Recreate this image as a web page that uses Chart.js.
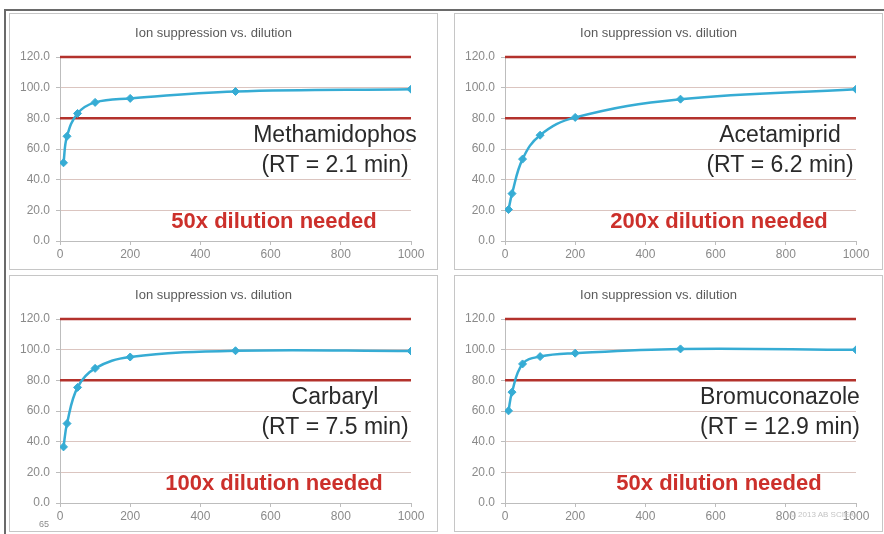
<!DOCTYPE html>
<html>
<head>
<meta charset="utf-8">
<script src="https://cdn.jsdelivr.net/npm/chart.js@4"></script>
<style>
    html, body { margin: 0; padding: 0; background: #ffffff; }
    body { width: 884px; height: 534px; position: relative; overflow: hidden; font-family: 'Liberation Sans', Arial, sans-serif; }
    .frame-top { position: absolute; left: 4px; top: 9px; width: 880px; height: 2px; background: #6a6a6a; }
    .frame-left { position: absolute; left: 4px; top: 9px; width: 2px; height: 525px; background: #6a6a6a; }
    .panel { position: absolute; border: 1px solid #c6c6c6; background: #ffffff; }
    .panel canvas { display: block; }
    .page-no { position: absolute; left: 39px; top: 519px; font-size: 9px; color: #8a8a8a; }
    .copyright { position: absolute; left: 790px; top: 510px; font-size: 8px; color: #c4c4c4; }
</style>
</head>
<body>
<div class="frame-top"></div>
<div class="frame-left"></div>
<div class="panel" style="left:9px;top:13px;"><canvas id="chart0" width="427" height="255"></canvas></div>
<div class="panel" style="left:454px;top:13px;"><canvas id="chart1" width="427" height="255"></canvas></div>
<div class="panel" style="left:9px;top:275px;"><canvas id="chart2" width="427" height="255"></canvas></div>
<div class="panel" style="left:454px;top:275px;"><canvas id="chart3" width="427" height="255"></canvas></div>
<div class="page-no">65</div>
<div class="copyright">© 2013 AB SCIEX</div>

<script>
// dilution factors (x axis) and % response per compound
const dilutions     = [ 10, 20, 50, 100, 200, 500, 1000 ];
const methamidophos = [ 51.0, 68.3, 83.2, 90.4, 93.0, 97.5, 99.0 ];
const acetamiprid   = [ 20.5, 30.9, 53.4, 69.0, 80.6, 92.5, 99.0 ];
const carbaryl      = [ 36.6, 51.8, 75.4, 87.8, 95.2, 99.3, 99.1 ];
const bromuconazole = [ 60.1, 72.3, 90.7, 95.5, 97.7, 100.5, 99.9 ];

const compounds      = [ 'Methamidophos', 'Acetamiprid', 'Carbaryl', 'Bromuconazole' ];
const retentionTimes = [ '2.1', '6.2', '7.5', '12.9' ];
const dilutionNeeded = [ '50x', '200x', '100x', '50x' ];
const seriesList     = [ methamidophos, acetamiprid, carbaryl, bromuconazole ];

// acceptance band
const limitLow  = 80;
const limitHigh = 120;
const xRange    = [ 0, 1000 ];

const chartTitle = 'Ion suppression vs. dilution';
const fontFamily = "'Liberation Sans', Arial, sans-serif";

function toPoints( xs, ys ) {
    return xs.map( function ( x, i ) {
        return { x: x, y: ys[ i ] };
    } );
}

function limitLine( value ) {
    return {
        data: toPoints( xRange, [ value, value ] ),
        borderColor: '#b3322c',
        borderWidth: 2.5,
        pointRadius: 0,
        tension: 0,
        clip: 4
    };
}

// compound name + RT and the red verdict, drawn over the plot
const annotationPlugin = {
    id: 'compoundLabels',
    afterDraw: function ( chart, args, opts ) {
        const ctx = chart.ctx;
        ctx.save();
        ctx.textAlign    = 'center';
        ctx.textBaseline = 'middle';

        ctx.fillStyle = '#2a2a2a';
        ctx.font      = '23px ' + fontFamily;
        ctx.fillText( opts.name, 325, 122 );
        ctx.fillText( '(RT = ' + opts.rt + ' min)', 325, 152 );

        ctx.fillStyle = '#cc302b';
        ctx.font      = 'bold 22px ' + fontFamily;
        ctx.fillText( opts.verdict + ' dilution needed', 264, 208 );
        ctx.restore();
    }
};

function buildChart( index ) {
    const canvas = document.getElementById( 'chart' + index );

    return new Chart( canvas.getContext( '2d' ), {
        type: 'line',
        data: {
            datasets: [
                {
                    data: toPoints( dilutions, seriesList[ index ] ),
                    borderColor: '#36acd4',
                    backgroundColor: '#36acd4',
                    borderWidth: 2.5,
                    pointStyle: 'rectRot',
                    pointRadius: 4,
                    pointBorderWidth: 1,
                    tension: 0.4
                },
                limitLine( limitLow ),
                limitLine( limitHigh )
            ]
        },
        options: {
            responsive: false,
            animation: false,
            layout: {
                padding: { left: 6, right: 26, top: 0, bottom: 4 }
            },
            scales: {
                x: {
                    type: 'linear',
                    min: xRange[ 0 ],
                    max: xRange[ 1 ],
                    afterFit: function ( scale ) { scale.height = 24; },
                    border: { color: '#bdbdbd', width: 1 },
                    grid: {
                        drawOnChartArea: false,
                        drawTicks: true,
                        tickLength: 4,
                        color: '#bdbdbd'
                    },
                    ticks: {
                        stepSize: 200,
                        padding: 2,
                        maxRotation: 0,
                        color: '#8a8a8a',
                        font: { family: fontFamily, size: 12 },
                        callback: function ( v ) { return String( v ); }
                    }
                },
                y: {
                    min: 0,
                    max: 120,
                    afterFit: function ( scale ) { scale.width = 44; },
                    border: { color: '#bdbdbd', width: 1 },
                    grid: {
                        color: '#dbc5c0',
                        tickColor: '#bdbdbd',
                        tickLength: 4
                    },
                    ticks: {
                        stepSize: 20,
                        padding: 6,
                        color: '#8a8a8a',
                        font: { family: fontFamily, size: 12 },
                        callback: function ( v ) { return v.toFixed( 1 ); }
                    }
                }
            },
            plugins: {
                legend: { display: false },
                tooltip: { enabled: false },
                title: {
                    display: true,
                    text: chartTitle,
                    color: '#5a5a5a',
                    font: { family: fontFamily, size: 13, weight: 'normal' },
                    padding: { top: 12, bottom: 15.4 }
                },
                compoundLabels: {
                    name: compounds[ index ],
                    rt: retentionTimes[ index ],
                    verdict: dilutionNeeded[ index ]
                }
            }
        },
        plugins: [ annotationPlugin ]
    } );
}

for ( let i = 0; i < compounds.length; i++ ) {
    buildChart( i );
}
</script>
</body>
</html>
